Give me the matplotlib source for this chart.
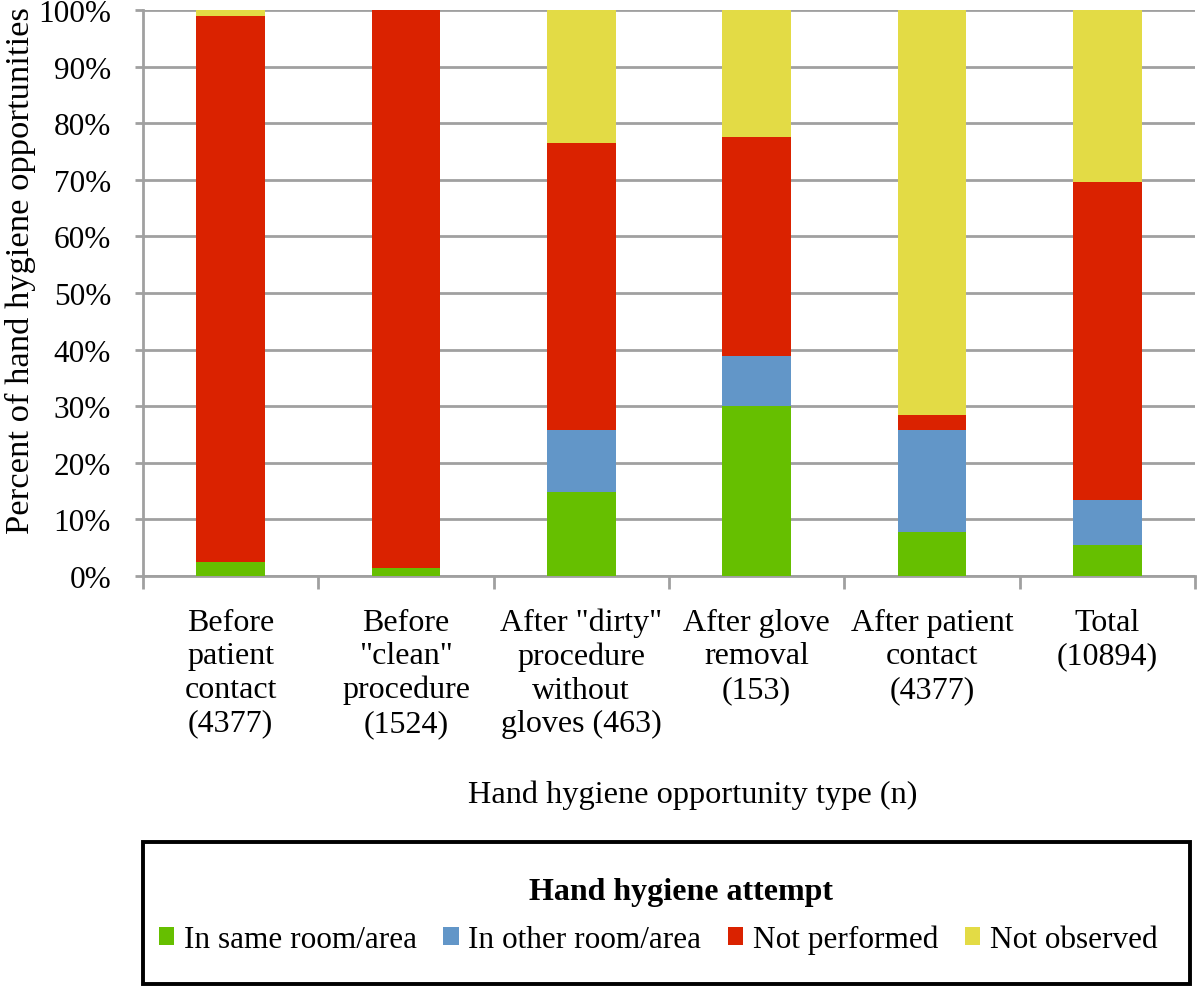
import numpy as np
import matplotlib.pyplot as plt
from matplotlib.patches import Rectangle

categories = [
    "Before\npatient\ncontact\n(4377)",
    "Before\n\"clean\"\nprocedure\n(1524)",
    "After \"dirty\"\nprocedure\nwithout\ngloves (463)",
    "After glove\nremoval\n(153)",
    "After patient\ncontact\n(4377)",
    "Total\n(10894)",
]
same_room = [2.4, 1.4, 14.8, 30.0, 7.7, 5.5]
other_room = [0.0, 0.0, 11.0, 8.9, 18.1, 7.9]
not_performed = [96.5, 98.6, 50.7, 38.7, 2.7, 56.2]
not_observed = [1.1, 0.0, 23.5, 22.4, 71.5, 30.4]

series = [
    ("In same room/area", same_room, "#66bf00"),
    ("In other room/area", other_room, "#6296c8"),
    ("Not performed", not_performed, "#da2200"),
    ("Not observed", not_observed, "#e3db45"),
]

plt.rcParams["font.family"] = ["Liberation Serif", "DejaVu Serif"]
plt.rcParams["font.size"] = 22

W, H = 1200, 987
fig = plt.figure(figsize=(12, 9.87), dpi=100)
ax = fig.add_axes([143 / W, 1 - 577 / H, 1052 / W, 566 / H])

x = np.arange(len(categories))
bottom = np.zeros(len(categories))
handles = []
for label, vals, color in series:
    b = ax.bar(x, vals, 0.39, bottom=bottom, color=color, label=label, zorder=3)
    handles.append(b)
    bottom += np.array(vals)

ax.set_xlim(-0.5, len(categories) - 0.5)
ax.set_ylim(0, 100)
ax.set_yticks(np.arange(0, 101, 10))
ax.set_yticklabels([f"{v}%" for v in range(0, 101, 10)], fontsize=22.5)
ax.yaxis.grid(True, color="#a0a0a0", linewidth=2, zorder=0)
ax.set_axisbelow(True)

ax.set_xticks(x)
ax.set_xticklabels(categories, linespacing=1.2, va="top", fontsize=23)
ax.tick_params(axis="x", which="major", length=0, pad=23)
ax.set_xticks(np.arange(-0.5, len(categories), 1), minor=True)
ax.tick_params(axis="x", which="minor", length=9, width=2, color="#a0a0a0")
ax.tick_params(axis="y", length=6, width=2, color="#a0a0a0", pad=17)

for side in ["top", "right"]:
    ax.spines[side].set_visible(False)
for side in ["left", "bottom"]:
    ax.spines[side].set_color("#a0a0a0")
    ax.spines[side].set_linewidth(2)

ax.set_ylabel("Percent of hand hygiene opportunities", fontsize=24.8)
ax.yaxis.set_label_coords((36 - 143) / 1052, (577 - 271) / 566)
fig.text(693 / W, 1 - 795 / H, "Hand hygiene opportunity type (n)", ha="center", va="center", fontsize=23.3)

# legend box
fig.patches.append(Rectangle((143 / W, 2 / H), (1190 - 143) / W, (985 - 843) / H,
                             transform=fig.transFigure, fill=False, edgecolor="black", linewidth=2.8))
fig.text(681 / W, 1 - 900 / H, "Hand hygiene attempt", ha="center", va="baseline",
         fontweight="bold", fontsize=23)
fig.legend(handles=handles, loc="center", bbox_to_anchor=(658 / W, 1 - 940 / H), ncol=4,
           frameon=False, handlelength=0.5, handleheight=0.5, handletextpad=0.3, columnspacing=0.85,
           fontsize=22.5, borderpad=0)

fig.savefig("out.png", dpi=100)
